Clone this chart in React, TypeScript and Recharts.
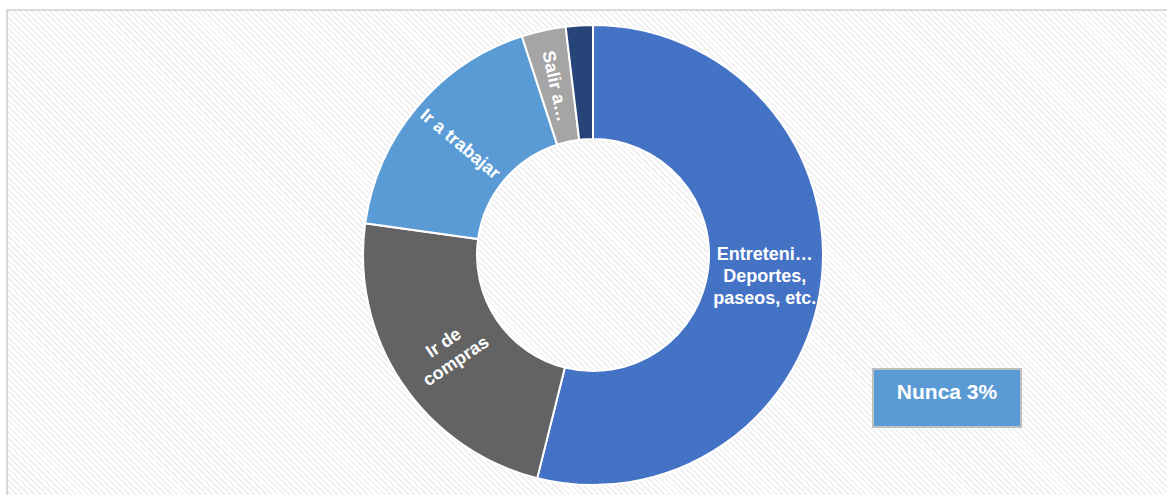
import React from "react";
import { PieChart, Pie, Cell } from "recharts";

const CATEGORIES = [
  "Entretenimiento: Deportes, paseos, etc.",
  "Ir de compras",
  "Ir a trabajar",
  "Salir a...",
  "Nunca",
];
const SHARES = [53.9, 23.3, 17.8, 3.1, 1.9];
const SLICE_LABELS = [
  ["Entreteni…", "Deportes,", "paseos, etc."],
  ["Ir de", "compras"],
  ["Ir a trabajar"],
  ["Salir a…"],
  [],
];
const CALLOUT = "Nunca 3%";

const COLORS = ["#4472C4", "#636363", "#5B9BD5", "#A5A5A5", "#264478"];
const FONT = "'Liberation Sans', Arial, sans-serif";
const RAD = Math.PI / 180;

const data = CATEGORIES.map((name, i) => ({ name, value: SHARES[i] }));

const renderLabel = (props: any) => {
  const { cx, cy, midAngle, innerRadius, outerRadius, index } = props;
  const lines = SLICE_LABELS[index] || [];
  if (!lines.length) return null;
  const r = (innerRadius + outerRadius) / 2;
  const x = cx + r * Math.cos(-midAngle * RAD);
  const y = cy + r * Math.sin(-midAngle * RAD);
  // radial text, flipped so it stays readable; the big slice stays flat
  let rot = ((-midAngle % 360) + 540) % 360 - 180;
  if (rot > 90) rot -= 180;
  if (rot < -90) rot += 180;
  if (index === 0) rot = 0;
  const lh = 22;
  const y0 = -((lines.length - 1) * lh) / 2;
  return (
    <text
      x={x}
      y={y}
      transform={`rotate(${rot} ${x} ${y})`}
      fill="#fff"
      fontFamily={FONT}
      fontWeight="bold"
      fontSize={18}
      textAnchor="middle"
      dominantBaseline="central"
    >
      {lines.map((l, i) => (
        <tspan key={i} x={x} y={y + y0 + i * lh}>
          {l}
        </tspan>
      ))}
    </text>
  );
};

export default function App() {
  return (
    <div
      style={{
        position: "fixed",
        left: 0,
        top: 0,
        width: 1167,
        height: 495,
        background: "#fff",
        overflow: "hidden",
      }}
    >
      <div
        style={{
          position: "absolute",
          left: 6,
          top: 9,
          width: 1180,
          height: 500,
          border: "2px solid #d9d9d9",
          background:
            "repeating-linear-gradient(45deg, #f1f1f1 0px, #f1f1f1 2px, #ffffff 2px, #ffffff 4.2px)",
        }}
      />
      <div style={{ position: "absolute", left: 0, top: 0 }}>
        <PieChart width={1167} height={495} margin={{ top: 0, right: 0, bottom: 0, left: 0 }}>
          <Pie
            data={data}
            dataKey="value"
            nameKey="name"
            cx={593}
            cy={255}
            innerRadius={116}
            outerRadius={230}
            startAngle={90}
            endAngle={-270}
            stroke="#fff"
            strokeWidth={2}
            label={renderLabel}
            labelLine={false}
            isAnimationActive={false}
          >
            {data.map((_, i) => (
              <Cell key={i} fill={COLORS[i]} />
            ))}
          </Pie>
        </PieChart>
      </div>
      <div
        style={{
          position: "absolute",
          left: 872,
          top: 368,
          width: 146,
          height: 46,
          background: "#5B9BD5",
          border: "2px solid #bfbfbf",
          color: "#fff",
          fontFamily: FONT,
          fontWeight: "bold",
          fontSize: 21,
          textAlign: "center",
          paddingTop: 10,
          boxSizing: "content-box",
        }}
      >
        {CALLOUT}
      </div>
    </div>
  );
}
